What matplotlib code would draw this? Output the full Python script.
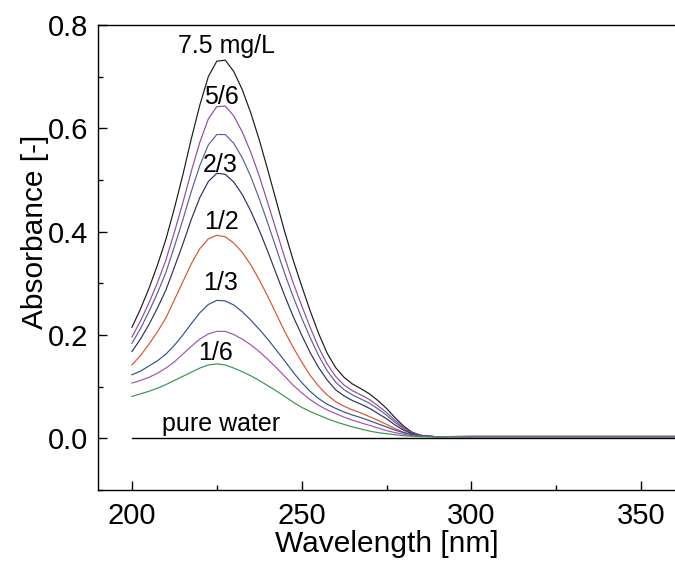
import matplotlib
matplotlib.use("Agg")
import matplotlib.pyplot as plt
from matplotlib.ticker import MultipleLocator, FormatStrFormatter

plt.rcParams['font.family'] = ['Liberation Sans', 'DejaVu Sans']

# Wavelength grid (nm) at which the spectra were read
wavelength = [200, 202.5, 205, 207.5, 210, 212.5, 215, 217.5, 220, 222.5,
              225, 227.5, 230, 232.5, 235, 237.5, 240, 242.5, 245, 247.5,
              250, 252.5, 255, 257.5, 260, 262.5, 265, 267.5, 270, 272.5,
              275, 277.5, 280, 282.5, 285, 287.5, 290, 300, 360]

# Absorbance spectra for the dilution series of the 7.5 mg/L stock
abs_full = [0.215, 0.250, 0.290, 0.335, 0.385, 0.445, 0.510, 0.580, 0.645, 0.700,
            0.730, 0.732, 0.710, 0.675, 0.630, 0.578, 0.520, 0.460, 0.400, 0.345,
            0.295, 0.247, 0.203, 0.165, 0.137, 0.118, 0.105, 0.096, 0.086, 0.073,
            0.058, 0.040, 0.024, 0.012, 0.006, 0.004, 0.003, 0.003, 0.003]
abs_5_6 = [0.196, 0.227, 0.262, 0.301, 0.345, 0.399, 0.456, 0.517, 0.573, 0.618,
           0.642, 0.643, 0.624, 0.593, 0.554, 0.508, 0.456, 0.403, 0.350, 0.301,
           0.257, 0.215, 0.176, 0.144, 0.120, 0.103, 0.092, 0.084, 0.075, 0.063,
           0.050, 0.035, 0.021, 0.011, 0.006, 0.004, 0.003, 0.004, 0.004]
abs_3_4 = [0.184, 0.212, 0.245, 0.281, 0.321, 0.371, 0.423, 0.478, 0.528, 0.568,
           0.588, 0.588, 0.571, 0.543, 0.507, 0.464, 0.417, 0.368, 0.319, 0.274,
           0.233, 0.195, 0.160, 0.131, 0.109, 0.094, 0.084, 0.076, 0.068, 0.057,
           0.045, 0.031, 0.019, 0.010, 0.005, 0.004, 0.003, 0.003, 0.003]
abs_2_3 = [0.168, 0.192, 0.220, 0.252, 0.287, 0.331, 0.376, 0.424, 0.466, 0.497,
           0.513, 0.511, 0.496, 0.472, 0.440, 0.403, 0.362, 0.319, 0.276, 0.236,
           0.200, 0.166, 0.137, 0.113, 0.094, 0.082, 0.073, 0.066, 0.058, 0.048,
           0.038, 0.026, 0.016, 0.009, 0.005, 0.004, 0.003, 0.002, 0.002]
abs_1_2 = [0.142, 0.160, 0.182, 0.206, 0.233, 0.268, 0.303, 0.338, 0.367, 0.386,
           0.393, 0.390, 0.378, 0.360, 0.336, 0.307, 0.275, 0.241, 0.207, 0.176,
           0.148, 0.122, 0.101, 0.084, 0.071, 0.062, 0.055, 0.049, 0.042, 0.035,
           0.027, 0.019, 0.012, 0.007, 0.005, 0.004, 0.003, 0.003, 0.003]
abs_1_3 = [0.123, 0.130, 0.140, 0.150, 0.163, 0.180, 0.200, 0.222, 0.243, 0.259,
           0.267, 0.266, 0.258, 0.245, 0.229, 0.211, 0.192, 0.171, 0.150, 0.128,
           0.108, 0.091, 0.077, 0.066, 0.058, 0.051, 0.045, 0.040, 0.034, 0.028,
           0.022, 0.016, 0.011, 0.007, 0.005, 0.004, 0.003, 0.002, 0.002]
abs_1_4 = [0.107, 0.112, 0.118, 0.126, 0.136, 0.148, 0.163, 0.178, 0.192, 0.202,
           0.207, 0.207, 0.201, 0.192, 0.181, 0.168, 0.153, 0.137, 0.120, 0.103,
           0.088, 0.075, 0.064, 0.055, 0.048, 0.041, 0.035, 0.030, 0.025, 0.020,
           0.015, 0.011, 0.008, 0.005, 0.004, 0.003, 0.003, 0.004, 0.004]
abs_1_6 = [0.081, 0.086, 0.091, 0.097, 0.104, 0.112, 0.120, 0.128, 0.136, 0.142,
           0.144, 0.142, 0.136, 0.129, 0.121, 0.112, 0.102, 0.092, 0.081, 0.070,
           0.060, 0.052, 0.045, 0.038, 0.032, 0.027, 0.022, 0.018, 0.014, 0.011,
           0.009, 0.007, 0.005, 0.004, 0.003, 0.003, 0.002, 0.002, 0.002]

# Blank (pure water) baseline
water_wl = [200, 360]
water_abs = [0.0, 0.0]

series = [
    (abs_full, '#1a1a1a'),
    (abs_5_6, '#8a4e9e'),
    (abs_3_4, '#5d5d9c'),
    (abs_2_3, '#2f2f5f'),
    (abs_1_2, '#d8542e'),
    (abs_1_3, '#33508f'),
    (abs_1_4, '#a052b2'),
    (abs_1_6, '#3e9151'),
]

# Curve labels: (text, wavelength, absorbance at text baseline)
labels = [
    ("7.5 mg/L", 227.9, 0.746),
    ("5/6", 226.4, 0.648),
    ("2/3", 226.0, 0.516),
    ("1/2", 226.4, 0.405),
    ("1/3", 226.1, 0.287),
    ("1/6", 224.6, 0.152),
    ("pure water", 226.4, 0.015),
]

fig = plt.figure(figsize=(6.75, 5.63), dpi=100)
ax = fig.add_axes([98 / 675, 73 / 563, 1 - 98 / 675, 465 / 563])

ax.plot(water_wl, water_abs, color='black', lw=1.0)
for values, color in series:
    ax.plot(wavelength, values, color=color, lw=0.85)

for text, x, y in labels:
    ax.text(x, y, text, ha='center', va='baseline', fontsize=18, color='black')

ax.set_xlim(190, 360)
ax.set_ylim(-0.1, 0.8)
ax.xaxis.set_major_locator(MultipleLocator(50))
ax.xaxis.set_minor_locator(MultipleLocator(25))
ax.yaxis.set_major_locator(MultipleLocator(0.2))
ax.yaxis.set_minor_locator(MultipleLocator(0.1))
ax.yaxis.set_major_formatter(FormatStrFormatter('%.1f'))

ax.tick_params(which='both', direction='in', top=False, right=False, width=1.0,
               labelsize=21)
ax.tick_params(axis='x', which='major', length=6.5, pad=9)
ax.tick_params(axis='x', which='minor', length=3.5)
ax.tick_params(axis='y', which='major', length=6.5, pad=7)
ax.tick_params(axis='y', which='minor', length=3.5)

for side in ('left', 'bottom', 'top'):
    ax.spines[side].set_linewidth(1.0)
ax.spines['right'].set_visible(False)

ax.set_xlabel('Wavelength [nm]', fontsize=21.5, labelpad=0)
ax.set_ylabel('Absorbance [-]', fontsize=21.5)
ax.yaxis.set_label_coords(-0.085, 0.556)

fig.savefig('out.png', dpi=100)
